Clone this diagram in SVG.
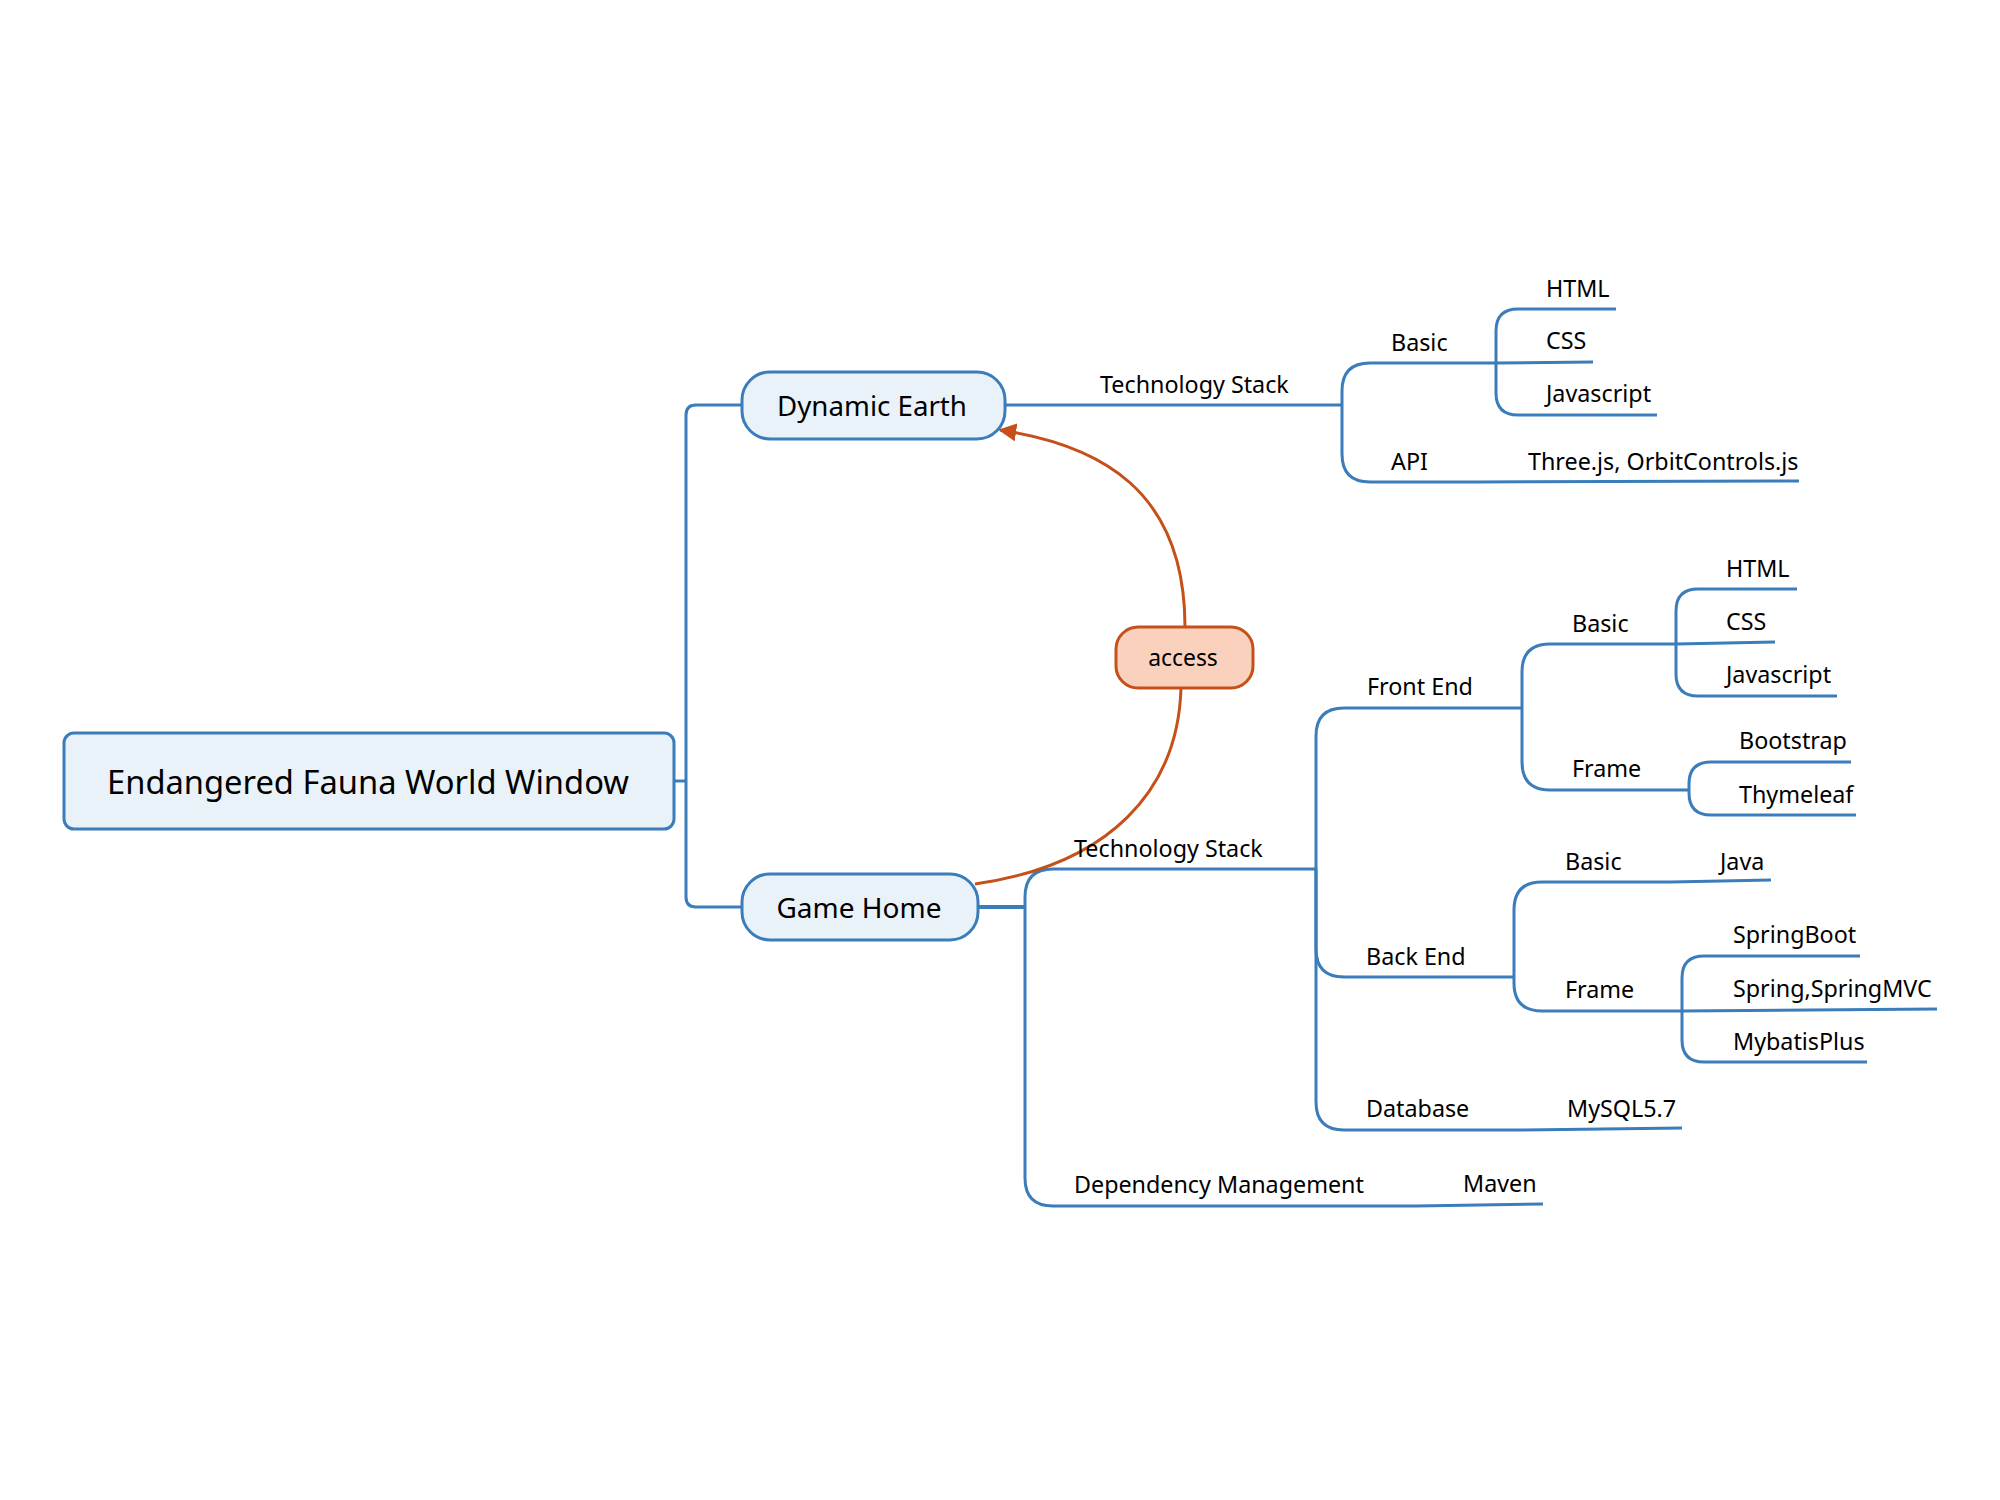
<svg xmlns="http://www.w3.org/2000/svg" width="2000" height="1500" viewBox="0 0 2000 1500">
<defs>
<style>
.lbl{font-family:"Noto Sans","Open Sans","DejaVu Sans",sans-serif;font-size:23.3px;fill:#000}
.ttl{font-family:"Noto Sans","Open Sans","DejaVu Sans",sans-serif;fill:#000;text-anchor:middle;dominant-baseline:central}
.conn{fill:none;stroke:#3A7DBA;stroke-width:3;stroke-linecap:butt}
.node{fill:#EAF2F9;stroke:#3A7DBA;stroke-width:3}
.rel{fill:none;stroke:#C5501A;stroke-width:3}
</style>
<marker id="arr" viewBox="0 0 10 10" refX="9" refY="5" markerWidth="6" markerHeight="6" orient="auto" markerUnits="strokeWidth">
<path d="M0,0 L10,5 L0,10 z" fill="#C5501A"/>
</marker>
</defs>
<rect width="2000" height="1500" fill="#fff"/>
<g id="connectors">
<path class="conn" d="M674,781 L686,781"/>
<path class="conn" d="M686,781 L686,415 Q686,405 696,405 L742,405"/>
<path class="conn" d="M686,781 L686,897 Q686,907 696,907 L742,907"/>
<path class="conn" d="M1005,405 L1342,405"/>
<path class="conn" d="M1342,405 L1342,391 Q1342,363 1370,363 L1496,363"/>
<path class="conn" d="M1342,405 L1342,454 Q1342,482 1370,482 L1478,482 L1799,481"/>
<path class="conn" d="M1496,363 L1496,331 Q1496,309 1518,309 L1616,309"/>
<path class="conn" d="M1496,363 L1593,362"/>
<path class="conn" d="M1496,363 L1496,393 Q1496,415 1518,415 L1657,415"/>
<path class="conn" d="M978,907 L1025,907" style="stroke-width:4"/>
<path class="conn" d="M1025,907 L1025,897 Q1025,869 1053,869 L1316,869"/>
<path class="conn" d="M1025,907 L1025,1178 Q1025,1206 1053,1206 L1416,1206 L1543,1204"/>
<path class="conn" d="M1316,869 L1316,736 Q1316,708 1344,708 L1522,708"/>
<path class="conn" d="M1316,869 L1316,949 Q1316,977 1344,977 L1514,977"/>
<path class="conn" d="M1316,869 L1316,1102 Q1316,1130 1344,1130 L1518,1130 L1682,1128"/>
<path class="conn" d="M1522,708 L1522,672 Q1522,644 1550,644 L1676,644"/>
<path class="conn" d="M1522,708 L1522,762 Q1522,790 1550,790 L1689,790"/>
<path class="conn" d="M1676,644 L1676,611 Q1676,589 1698,589 L1797,589"/>
<path class="conn" d="M1676,644 L1775,642"/>
<path class="conn" d="M1676,644 L1676,674 Q1676,696 1698,696 L1837,696"/>
<path class="conn" d="M1689,790 L1689,784 Q1689,762 1711,762 L1851,762"/>
<path class="conn" d="M1689,790 L1689,793 Q1689,815 1711,815 L1856,815"/>
<path class="conn" d="M1514,977 L1514,910 Q1514,882 1542,882 L1671,882 L1771,880"/>
<path class="conn" d="M1514,977 L1514,983 Q1514,1011 1542,1011 L1682,1011"/>
<path class="conn" d="M1682,1011 L1682,978 Q1682,956 1704,956 L1860,956"/>
<path class="conn" d="M1682,1011 L1937,1009"/>
<path class="conn" d="M1682,1011 L1682,1040 Q1682,1062 1704,1062 L1867,1062"/>
<path class="rel" d="M975,884 C1110,865 1178,790 1181,688"/>
<path class="rel" d="M1185,627 C1185,490 1100,445 1000,430" marker-end="url(#arr)"/>
</g>
<g id="root">
<rect class="node" x="64" y="733" width="610" height="96" rx="10"/>
<text class="ttl" x="368" y="781" font-size="32.7">Endangered Fauna World Window</text>
</g>
<g id="dynamic-earth">
<rect class="node" x="742" y="372" width="263" height="67" rx="28"/>
<text class="ttl" x="872" y="405" font-size="27.7">Dynamic Earth</text>
</g>
<g id="game-home">
<rect class="node" x="742" y="874" width="236" height="66" rx="28"/>
<text class="ttl" x="859" y="907" font-size="28">Game Home</text>
</g>
<g id="access">
<rect x="1116" y="627" width="137" height="61" rx="22" fill="#F9D1BD" stroke="#C5501A" stroke-width="3"/>
<text class="ttl" x="1183" y="657" font-size="22.9">access</text>
</g>
<g id="de-tech-stack"><text class="lbl" x="1100" y="393">Technology Stack</text></g>
<g id="de-basic"><text class="lbl" x="1391" y="351">Basic</text></g>
<g id="de-api"><text class="lbl" x="1391" y="470">API</text></g>
<g id="de-html"><text class="lbl" x="1546" y="297">HTML</text></g>
<g id="de-css"><text class="lbl" x="1546" y="349">CSS</text></g>
<g id="de-js"><text class="lbl" x="1546" y="402">Javascript</text></g>
<g id="de-three"><text class="lbl" x="1528" y="470">Three.js, OrbitControls.js</text></g>
<g id="gh-tech-stack"><text class="lbl" x="1074" y="857">Technology Stack</text></g>
<g id="gh-dep"><text class="lbl" x="1074" y="1193">Dependency Management</text></g>
<g id="gh-maven"><text class="lbl" x="1463" y="1192">Maven</text></g>
<g id="fe"><text class="lbl" x="1367" y="695">Front End</text></g>
<g id="be"><text class="lbl" x="1366" y="965">Back End</text></g>
<g id="db"><text class="lbl" x="1366" y="1117">Database</text></g>
<g id="mysql"><text class="lbl" x="1567" y="1117">MySQL5.7</text></g>
<g id="fe-basic"><text class="lbl" x="1572" y="632">Basic</text></g>
<g id="fe-frame"><text class="lbl" x="1572" y="777">Frame</text></g>
<g id="fe-html"><text class="lbl" x="1726" y="577">HTML</text></g>
<g id="fe-css"><text class="lbl" x="1726" y="630">CSS</text></g>
<g id="fe-js"><text class="lbl" x="1726" y="683">Javascript</text></g>
<g id="fe-bootstrap"><text class="lbl" x="1739" y="749">Bootstrap</text></g>
<g id="fe-thymeleaf"><text class="lbl" x="1739" y="803">Thymeleaf</text></g>
<g id="be-basic"><text class="lbl" x="1565" y="870">Basic</text></g>
<g id="be-frame"><text class="lbl" x="1565" y="998">Frame</text></g>
<g id="be-java"><text class="lbl" x="1720" y="870">Java</text></g>
<g id="be-springboot"><text class="lbl" x="1733" y="943">SpringBoot</text></g>
<g id="be-spring"><text class="lbl" x="1733" y="997">Spring,SpringMVC</text></g>
<g id="be-mybatis"><text class="lbl" x="1733" y="1050">MybatisPlus</text></g>
</svg>
